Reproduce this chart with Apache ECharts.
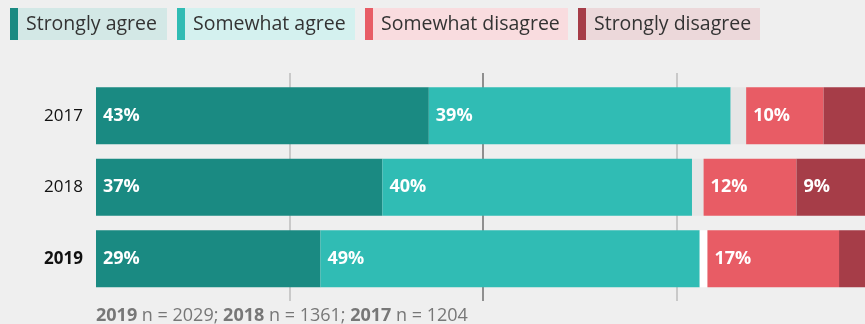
<!DOCTYPE html>
<html>
<head>
<meta charset="utf-8">
<script src="https://cdn.jsdelivr.net/npm/echarts@6/dist/echarts.min.js"></script>
<style>
  html, body { margin: 0; padding: 0; background: #efefef; }
  #chart { width: 865px; height: 324px; }
</style>
</head>
<body>
<div id="chart"></div>
<script>
const years = ["2017", "2018", "2019"];
const stronglyAgree = [43, 37, 29];
const somewhatAgree = [39, 40, 49];
const neutral = [2, 1.5, 1];
const somewhatDisagree = [10, 12, 17];
const stronglyDisagree = [6, 9, 4];
const sampleSizes = [["2019", 2029], ["2018", 1361], ["2017", 1204]];

const legendItems = [
  { name: "Strongly agree", color: "#1a8a82", bg: "#d3e8e6", x: 10, w: 157 },
  { name: "Somewhat agree", color: "#30bcb4", bg: "#d4f1ef", x: 177, w: 178 },
  { name: "Somewhat disagree", color: "#e85c65", bg: "#f9dcdf", x: 365, w: 203 },
  { name: "Strongly disagree", color: "#a63d48", bg: "#ecd8da", x: 578, w: 182 },
];
const neutralColors = ["#e6e6e6", "#e6e6e6", "#ffffff"];

const FONT = "Open Sans";
const chart = echarts.init(document.getElementById("chart"));

function barSeries(name, data, color, showLabel) {
  return {
    name: name,
    type: "bar",
    stack: "total",
    xAxisIndex: 0,
    yAxisIndex: 0,
    barWidth: 57,
    data: data,
    itemStyle: { color: color },
    label: {
      show: showLabel,
      position: "insideLeft",
      distance: 7,
      color: "#fff",
      fontFamily: FONT,
      fontWeight: "bold",
      fontSize: 18,
      formatter: (p) => (p.value >= 8 ? p.value + "%" : ""),
    },
    emphasis: { disabled: true },
    z: 5,
  };
}

const graphics = [];
legendItems.forEach((it) => {
  graphics.push({
    type: "rect",
    shape: { x: it.x, y: 8, width: it.w, height: 32 },
    style: { fill: it.bg },
  });
  graphics.push({
    type: "rect",
    shape: { x: it.x, y: 8, width: 8, height: 32 },
    style: { fill: it.color },
  });
  graphics.push({
    type: "text",
    x: it.x + 16,
    y: 24,
    style: {
      text: it.name,
      fill: "#333",
      font: "19.5px '" + FONT + "'",
      verticalAlign: "middle",
    },
  });
});

const noteText = sampleSizes
  .map((s) => "{b|" + s[0] + "} n = " + s[1])
  .join("; ");
graphics.push({
  type: "text",
  x: 96,
  y: 316,
  style: {
    text: noteText,
    fill: "#777",
    font: "18px '" + FONT + "'",
    verticalAlign: "middle",
    rich: {
      b: { fontWeight: "bold", fill: "#777", fontSize: 18, fontFamily: FONT },
    },
  },
});

const noAxisBits = {
  axisLine: { show: false }, axisTick: { show: false }, axisLabel: { show: false },
};

const option = {
  backgroundColor: "#efefef",
  animation: false,
  grid: [
    { left: 96, width: 774, top: 80, height: 214.5, outerBoundsMode: "none" },
    { left: 96, width: 774, top: 73, height: 228, outerBoundsMode: "none" },
    { left: 96, width: 774, top: 73, height: 228, outerBoundsMode: "none" },
  ],
  xAxis: [
    Object.assign({ gridIndex: 0, type: "value", min: 0, max: 100,
      splitLine: { show: false } }, noAxisBits),
    Object.assign({ gridIndex: 1, type: "value", min: 0, max: 100, interval: 25,
      splitLine: { show: true, showMinLine: false, showMaxLine: false,
        lineStyle: { color: "#bdbdbd", width: 1.5 } } }, noAxisBits),
    Object.assign({ gridIndex: 2, type: "value", min: 0, max: 100, interval: 50,
      splitLine: { show: true, showMinLine: false, showMaxLine: false,
        lineStyle: { color: "#8f8f8f", width: 2 } } }, noAxisBits),
  ],
  yAxis: [
    {
      gridIndex: 0, type: "category", data: years, inverse: true,
      axisLine: { show: false }, axisTick: { show: false },
      axisLabel: {
        margin: 13,
        fontFamily: FONT,
        fontSize: 17,
        color: "#111",
        formatter: (v) => (v === "2019" ? "{b|" + v + "}" : v),
        rich: { b: { fontWeight: "bold", fontSize: 17, fontFamily: FONT, color: "#111" } },
      },
    },
    { gridIndex: 1, type: "value", show: false, min: 0, max: 1 },
    { gridIndex: 2, type: "value", show: false, min: 0, max: 1 },
  ],
  graphic: graphics,
  series: [
    barSeries("Strongly agree", stronglyAgree, legendItems[0].color, true),
    barSeries("Somewhat agree", somewhatAgree, legendItems[1].color, true),
    barSeries("Neutral", neutral.map((v, i) => ({
      value: v, itemStyle: { color: neutralColors[i] },
    })), "#e6e6e6", false),
    barSeries("Somewhat disagree", somewhatDisagree, legendItems[2].color, true),
    barSeries("Strongly disagree", stronglyDisagree, legendItems[3].color, true),
  ],
};

chart.setOption(option);
</script>
</body>
</html>
